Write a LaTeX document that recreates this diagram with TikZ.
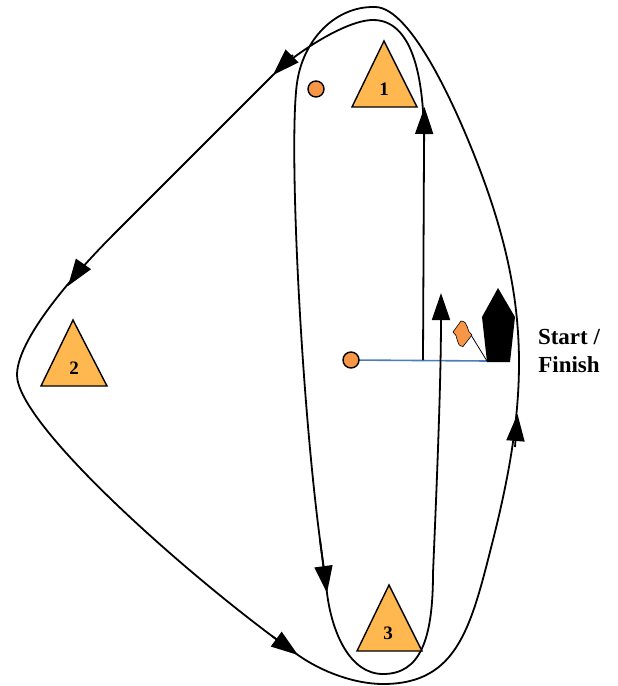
\documentclass[tikz,border=0pt]{standalone}
\usepackage{fontspec}
\setmainfont{Liberation Serif}
\usetikzlibrary{arrows.meta}
\definecolor{markfill}{HTML}{FFB84F}
\definecolor{buoy}{HTML}{F79646}
\definecolor{lineblue}{HTML}{4A7EBB}
\begin{document}
\begin{tikzpicture}[x=1pt,y=-1pt,
  course/.style={line width=1.8pt, line join=round},
  tip/.style={line width=1.8pt, -{Triangle[length=27pt,width=18pt]}},
  markshape/.style={fill=markfill, draw=black, line width=1.4pt, line join=miter},
  marklabel/.style={font=\fontsize{19}{22}\selectfont\bfseries, inner sep=0pt},
  buoyshape/.style={fill=buoy, draw=black, line width=1.4pt},
  sflabel/.style={font=\fontsize{23}{28}\selectfont\bfseries, align=center, inner sep=0pt}]
\useasboundingbox (0,0) rectangle (618,686);

% start line
\coordinate (pin) at (351,360);
\coordinate (boatpt) at (487,361);
\draw[lineblue, line width=1.6pt] (pin) -- (boatpt);

% course
\coordinate (start) at (423,360);
\coordinate (finish) at (441,293);
\draw[course, -{Triangle[length=27pt,width=18pt]}] (start)
  -- (424,150)
  .. controls (425,70) and (410,20) .. (373,20)
  .. controls (345,20) and (293,55) .. (273,75)
  -- (115,233)
  .. controls (87,261) and (17,335) .. (17,375)
  .. controls (17,425) and (192,580) .. (298,655)
  .. controls (322,672) and (355,684) .. (383,684)
  .. controls (458,684) and (471,627) .. (493,540)
  .. controls (529.75,394.5) and (529.4,300.9) .. (480,170)
  .. controls (458.8,113.9) and (412,7) .. (375,7)
  .. controls (335,6) and (303,40) .. (297,83)
  .. controls (288.6,143) and (300.5,391.5) .. (320,540)
  -- (327,593)
  .. controls (332,633) and (350,674) .. (383,674)
  .. controls (420,674) and (433,640) .. (433,573)
  .. controls (437,480) and (441,380) .. (finish);

% direction arrows
\draw[tip] (424,150) -- (424.5,107);
\draw[tip] (293,55) -- (273,75);
\draw[tip] (82,266) -- (68,286);
\draw[tip] (272,636) -- (298,655);
\draw[tip] (515,447) -- (517.5,414);
\draw[tip] (320,540) -- (327,593);

% marks
\draw[markshape] (384,41) -- (417,107) -- (352,107) -- cycle;
\node[marklabel] (m1) at (384,89) {1};
\draw[markshape] (73,320) -- (107,386) -- (41,386) -- cycle;
\node[marklabel] (m2) at (74,368) {2};
\draw[markshape] (389,585) -- (422,651) -- (357,651) -- cycle;
\node[marklabel] (m3) at (388,633) {3};

% buoys
\draw[buoyshape] (316,89) circle (8);
\draw[buoyshape] (pin) circle (8);

% committee boat
\fill[black] (498,288) -- (515,317) -- (510,362) -- (487,362) -- (482,317) -- cycle;
% flag
\draw[line width=0.8pt] (471,335) -- (boatpt);
\draw[fill=buoy, draw=black, line width=0.6pt]
  (453,332) -- (461,321) .. controls (469,321) and (466,332) .. (472,335)
  -- (463,346.5) .. controls (455,346) and (459,335) .. cycle;

\node[sflabel] (sf) at (569,351) {Start /\\Finish};
\end{tikzpicture}
\end{document}
